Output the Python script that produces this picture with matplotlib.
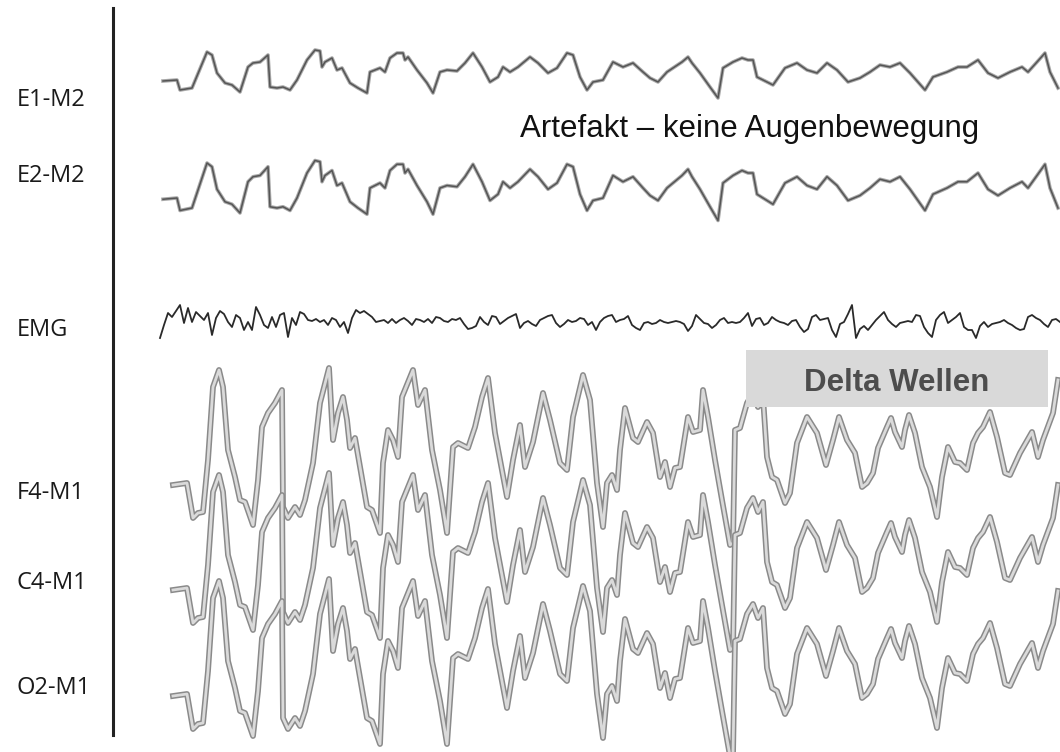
import matplotlib.pyplot as plt
import numpy as np
from matplotlib.patches import Rectangle
from matplotlib.lines import Line2D

plt.rcParams['font.family'] = ['Liberation Sans', 'DejaVu Sans']

# 30 s epoch, 30 samples per second (sample 0 = start of epoch)
FS = 30.0

# EOG (E1-M2) - slow artefact, display units
eog_samples = [3, 17, 20, 32, 47, 52, 57, 65, 72, 80, 88, 93, 100, 108, 110, 117, 123, 130,
               137, 147, 155, 160, 162, 165, 172, 177, 182, 190, 198, 207, 210, 220, 225, 230,
               237, 243, 245, 248, 257, 267, 273, 280, 287, 297, 305, 313, 322, 330, 338, 343,
               350, 358, 370, 378, 388, 397, 407, 413, 420, 427, 433, 443, 453, 463, 473, 483,
               490, 498, 507, 513, 522, 528, 532, 540, 550, 558, 563, 573, 582, 588, 593, 597,
               607, 613, 625, 637, 647, 657, 667, 677, 688, 700, 710, 720, 730, 740, 750, 765,
               773, 787, 798, 807, 818, 828, 838, 850, 862, 868, 877, 885, 890, 898]
eog_values = [-9, -8, -18, -16, 20, 17, -1, -11, -13, -20, 5, 9, 10, 17, -15, -16, -15, -18,
              -8, 12, 22, 21, 5, 10, 14, 2, 4, -11, -16, -21, 0, 4, 0, 14,
              19, 19, 12, 15, 2, -11, -21, 0, 2, 1, 9, 19, 5, -10, -5, 5,
              0, 5, 15, 9, -1, 4, 19, 17, -5, -18, -10, -8, 10, 5, 9, 0,
              -6, -10, 0, 4, 10, 15, 9, -1, -15, -26, 4, 10, 14, 12, 12, -5,
              -10, -13, 4, 9, 2, -1, 9, 2, -10, -6, 0, 7, 5, 9, -1, -18,
              -5, 0, 5, 5, 12, -1, -6, 0, 5, 0, 10, 19, 0, -16]

# EMG - chin muscle tone, one value every 4 samples
emg_step = 4
emg_values = [-18, -5, 7, 3, 9, 15, -3, 12, -2, 8, 4, 0, 7, -15, 2, 9, 6, -2, -7, 5,
              2, -10, -2, -10, 13, 5, -5, -8, 3, -7, 5, 7, -17, 2, -5, 8, 6, 0, -1, 1,
              -2, 0, -5, 2, 0, -7, -2, -13, 2, 10, 7, 9, 6, 3, -2, -1, 0, -3, 1, -3,
              0, 2, -1, -5, 1, 0, -2, 1, -3, 3, 2, -1, -2, 1, 0, 2, -4, -9, -8, -6,
              3, -2, -5, 4, 3, -4, -1, 2, 4, 6, -8, -3, -1, -4, -6, 0, 2, 4, 5, -3,
              -7, -4, 0, -2, -1, 2, 1, -5, -2, -10, -2, 2, 4, 5, -2, 0, 1, 4, -5, -8,
              -10, -3, -2, -4, -3, 0, -2, -3, -2, -1, -2, -4, -11, -6, 5, 1, -3, -4, -8, -5,
              0, 2, -3, -2, -3, -2, 2, 7, -6, 1, 2, -5, -3, 3, 0, -2, -3, -5, -1, 0,
              -7, -12, -9, 3, 5, 0, 1, 2, -10, -17, -4, -2, 6, 15, -18, -9, -6, -10, -5, 0,
              4, 8, 0, -4, -7, -3, -2, -1, -2, 5, 4, -7, -13, -17, 0, 5, 8, -3, 0, 3,
              7, -7, -10, -10, -18, -6, -2, -7, -4, -3, -2, 0, -3, -5, -8, -10, -9, 3, 5, 2,
              0, -4, -7, 0, 1, -2]

# EEG delta activity (same waveform on F4, C4, O2)
eeg_samples = [13, 27, 33, 38, 43, 48, 53, 59, 63, 68, 75, 80, 85, 93, 98, 102, 108, 115,
               122, 123, 128, 135, 140, 145, 153, 160, 169, 173, 178, 183, 187, 190, 195, 200,
               207, 212, 220, 223, 228, 233, 238, 242, 253, 258, 265, 272, 280, 287, 293, 298,
               308, 315, 322, 328, 335, 347, 353, 360, 365, 373, 383, 390, 400, 407, 413, 423,
               430, 437, 443, 447, 452, 457, 460, 465, 473, 478, 487, 493, 500, 505, 510, 515,
               520, 528, 533, 540, 543, 548, 555, 562, 570, 573, 575, 580, 587, 593, 598, 603,
               607, 612, 617, 625, 630, 637, 647, 657, 666, 673, 679, 687, 695, 702, 707, 713,
               718, 727, 731, 735, 742, 745, 749, 755, 762, 770, 777, 782, 788, 795, 800, 807,
               813, 818, 823, 830, 837, 845, 850, 860, 872, 878, 883, 893, 898]
eeg_values = [-35, -33, -68, -63, -62, -10, 63, 80, 63, 0, -27, -50, -52, -75, -30, 23, 37, 47,
              60, -57, -68, -57, -65, -50, -13, 47, 82, 10, 37, 53, 30, 2, 12, -17,
              -57, -60, -83, -13, 20, 10, -7, 53, 80, 45, 60, 0, -40, -83, 3, 7,
              2, 23, 53, 72, 17, -47, -10, 25, -17, 8, 57, 30, -13, -20, 33, 75,
              50, -33, -77, -33, -25, -40, 0, 42, 12, 8, 28, 17, -27, -12, -37, -18,
              -17, 33, 18, 20, 60, 33, -10, -50, -95, -93, 20, 22, 47, 57, 43, 53,
              -7, -27, -30, -53, -43, 7, 33, 17, -15, 10, 33, 10, -3, -37, -33, -23,
              2, 23, 32, 18, 3, 20, 35, 17, -17, -37, -67, -27, 3, -12, -13, -20,
              7, 17, 23, 38, 13, -23, -25, -3, 18, -7, 10, 37, 70]

channel_labels = ['E1-M2', 'E2-M2', 'EMG', 'F4-M1', 'C4-M1', 'O2-M1']
label_y = [100, 176, 330, 493, 583, 688]

# trace baselines (display rows, top = 0)
row_e1, row_e2, row_emg = 72, 188, 320
eeg_rows = {'F4-M1': 450, 'C4-M1': 555, 'O2-M1': 661}
e2_gain = 1.25

W, H = 1060, 752
fig = plt.figure(figsize=(W / 100, H / 100), dpi=100)
ax = fig.add_axes([0, 0, 1, 1])
ax.set_xlim(-160 / FS, 900 / FS)
ax.set_ylim(H, 0)
ax.axis('off')

t_eog = np.array(eog_samples) / FS
eog = np.array(eog_values, dtype=float)
for base, gain in [(row_e1, 1.0), (row_e2, e2_gain)]:
    ax.plot(t_eog, base - gain * eog, color='#a8a8a8', lw=2.6, solid_joinstyle='round')
    ax.plot(t_eog, base - gain * eog, color='#555555', lw=1.1, solid_joinstyle='round')

t_emg = np.arange(len(emg_values)) * emg_step / FS
ax.plot(t_emg, row_emg - np.array(emg_values), color='#2a2a2a', lw=1.3)

t_eeg = np.array(eeg_samples) / FS
eeg = np.array(eeg_values, dtype=float)
for name, base in eeg_rows.items():
    ax.plot(t_eeg, base - eeg, color='#8a8a8a', lw=4.2, solid_joinstyle='round')
    ax.plot(t_eeg, base - eeg, color='#dadada', lw=2.0, solid_joinstyle='round')

# channel labels and separator
for lab, y in zip(channel_labels, label_y):
    fig.text(17 / W, 1 - y / H, lab, ha='left', va='center', fontsize=17,
             family=['Open Sans', 'DejaVu Sans'], color='#1a1a1a')
fig.add_artist(Line2D([113 / W, 113 / W], [1 - 8 / H, 1 - 735 / H], color='#222222', lw=2.2))

fig.text(520 / W, 1 - 137 / H, 'Artefakt – keine Augenbewegung', ha='left', va='baseline',
         fontsize=22.5, color='#111111')

fig.add_artist(Rectangle((746 / W, 1 - 407 / H), 302 / W, 57 / H, transform=fig.transFigure,
                         facecolor='#d9d9d9', edgecolor='none', zorder=5))
fig.text(897 / W, 1 - 391 / H, 'Delta Wellen', ha='center', va='baseline', fontsize=22.5,
         fontweight='bold', color='#4d4d4d', zorder=6)

fig.savefig('out.png', dpi=100)
